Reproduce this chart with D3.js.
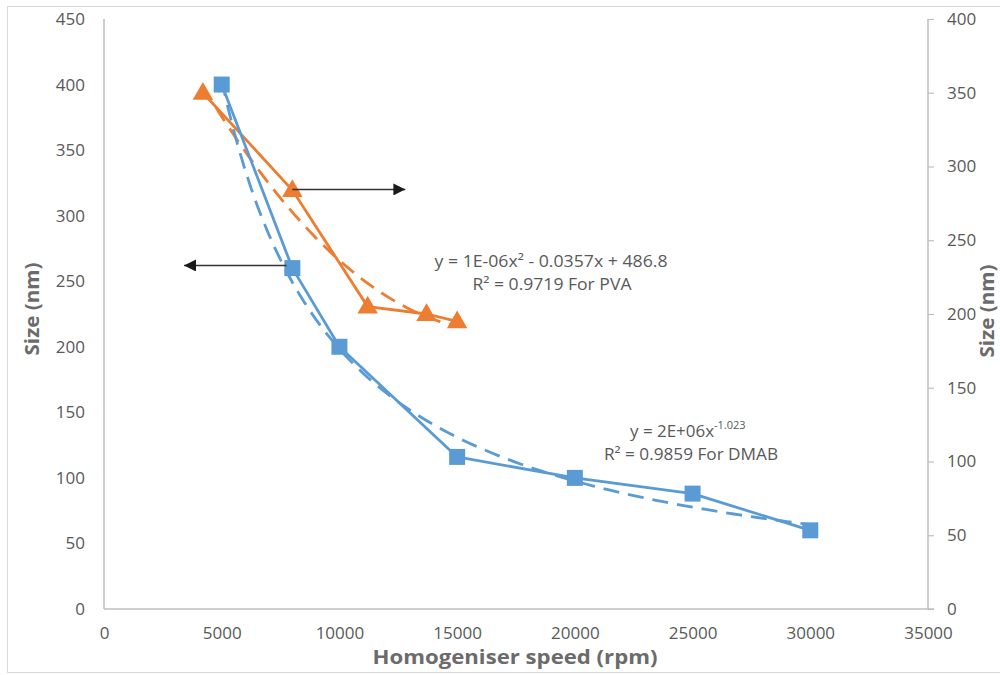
<!DOCTYPE html>
<html><head><meta charset="utf-8">
<script src="https://cdn.jsdelivr.net/npm/d3@7"></script>
<style>
html,body{margin:0;padding:0;background:#fff;}
svg{display:block;font-family:"Open Sans",sans-serif;}
</style></head>
<body>
<svg id="chart" width="1000" height="675"></svg>
<script>
// ---- data ----
const dmabSpeed = [5000, 8000, 10000, 15000, 20000, 25000, 30000];
const dmabSize  = [400, 260, 200, 116, 100, 88, 60];          // left axis
const pvaSpeed  = [4200, 8000, 11200, 13700, 15000];
const pvaSize   = [350, 284, 205, 200, 195];                  // right axis
const xTicks    = [0, 5000, 10000, 15000, 20000, 25000, 30000, 35000];
const yLeftTicks  = [0, 50, 100, 150, 200, 250, 300, 350, 400, 450];
const yRightTicks = [0, 50, 100, 150, 200, 250, 300, 350, 400];
const pvaEquation  = ["y = 1E-06x² - 0.0357x + 486.8", "R² = 0.9719 For PVA"];
const dmabEquation = ["y = 2E+06x", "-1.023", "R² = 0.9859 For DMAB"];

const svg = d3.select("#chart");
const m = {left:104, right:928, top:19, bottom:609};

const x  = d3.scaleLinear().domain([0,35000]).range([m.left, m.right]);
const yL = d3.scaleLinear().domain([0,450]).range([m.bottom, m.top]);
const yR = d3.scaleLinear().domain([0,400]).range([m.bottom, m.top]);

const blue = "#5B9BD5", orange = "#ED7D31", axisCol = "#BFBFBF", txt = "#595959";

// outer border
svg.append("rect").attr("x",7.5).attr("y",6.5).attr("width",1000).attr("height",666)
  .attr("fill","none").attr("stroke","#D9D9D9").attr("stroke-width",1);

// axes
const gx = svg.append("g").attr("transform",`translate(0,${m.bottom})`)
  .call(d3.axisBottom(x).tickValues(xTicks).tickSize(0).tickPadding(18).tickFormat(d3.format("d")));
const gl = svg.append("g").attr("transform",`translate(${m.left},0)`)
  .call(d3.axisLeft(yL).tickValues(yLeftTicks).tickSize(0).tickPadding(19).tickFormat(d3.format("d")));
const gr = svg.append("g").attr("transform",`translate(${m.right},0)`)
  .call(d3.axisRight(yR).tickValues(yRightTicks).tickSize(6).tickPadding(13).tickFormat(d3.format("d")));
[gx,gl,gr].forEach(g=>{
  g.selectAll(".domain").attr("stroke",axisCol).attr("stroke-width",1.5);
  g.selectAll(".tick line").attr("stroke",axisCol).attr("stroke-width",1.2);
  g.selectAll("text").attr("fill",txt).style("font-size","17px").style("font-family","'Open Sans',sans-serif");
});
gl.select(".domain").attr("d",`M0,${m.top}V${m.bottom}`);
gr.select(".domain").attr("d",`M0,${m.top}V${m.bottom}`);
gx.select(".domain").attr("d",`M${m.left},0H${m.right+6}`);

// axis titles
svg.append("text").attr("x",515).attr("y",664).attr("text-anchor","middle")
  .attr("fill","#6b6b6b").style("font-weight","bold").style("font-size","20px")
  .attr("textLength",285).attr("lengthAdjust","spacingAndGlyphs")
  .text("Homogeniser speed (rpm)");
svg.append("text").attr("transform","translate(39,309) rotate(-90)").attr("text-anchor","middle")
  .attr("fill","#6b6b6b").style("font-weight","bold").style("font-size","20px")
  .attr("textLength",93).attr("lengthAdjust","spacingAndGlyphs").text("Size (nm)");
svg.append("text").attr("transform","translate(994,311) rotate(-90)").attr("text-anchor","middle")
  .attr("fill","#6b6b6b").style("font-weight","bold").style("font-size","20px")
  .attr("textLength",93).attr("lengthAdjust","spacingAndGlyphs").text("Size (nm)");

// ---- trendlines from least squares fits ----
// power fit for DMAB (log-log regression)
const lx = dmabSpeed.map(Math.log), ly = dmabSize.map(Math.log);
const mx = d3.mean(lx), my = d3.mean(ly);
const b = d3.sum(lx.map((v,i)=>(v-mx)*(ly[i]-my))) / d3.sum(lx.map(v=>(v-mx)*(v-mx)));
const a = Math.exp(my - b*mx);
const powX = d3.range(0,101).map(i=>dmabSpeed[0] + (dmabSpeed[dmabSpeed.length-1]-dmabSpeed[0])*i/100);
const powPts = powX.map(v=>[v, a*Math.pow(v,b)]);

// quadratic fit for PVA
function quadFit(xs, ys){
  const s = k=>d3.sum(xs.map(v=>Math.pow(v,k)));
  const t = k=>d3.sum(xs.map((v,i)=>Math.pow(v,k)*ys[i]));
  const M = [[s(4),s(3),s(2),t(2)],[s(3),s(2),s(1),t(1)],[s(2),s(1),xs.length,t(0)]];
  for(let i=0;i<3;i++){
    for(let j=i+1;j<3;j++){
      const f=M[j][i]/M[i][i];
      for(let k=i;k<4;k++) M[j][k]-=f*M[i][k];
    }
  }
  const r=[0,0,0];
  for(let i=2;i>=0;i--){
    let sum=M[i][3];
    for(let k=i+1;k<3;k++) sum-=M[i][k]*r[k];
    r[i]=sum/M[i][i];
  }
  return r;
}
const q = quadFit(pvaSpeed, pvaSize);
const qX = d3.range(0,101).map(i=>pvaSpeed[0] + (pvaSpeed[pvaSpeed.length-1]-pvaSpeed[0])*i/100);
const qPts = qX.map(v=>[v, q[0]*v*v + q[1]*v + q[2]]);

const lineL = d3.line().x(d=>x(d[0])).y(d=>yL(d[1]));
const lineR = d3.line().x(d=>x(d[0])).y(d=>yR(d[1]));

const dmab = dmabSpeed.map((v,i)=>[v,dmabSize[i]]);
const pva  = pvaSpeed.map((v,i)=>[v,pvaSize[i]]);

svg.append("path").datum(pva).attr("d",lineR).attr("fill","none")
  .attr("stroke",orange).attr("stroke-width",2.8).attr("stroke-linejoin","round");
svg.append("path").datum(qPts).attr("d",lineR).attr("fill","none")
  .attr("stroke",orange).attr("stroke-width",2.8).attr("stroke-dasharray","16,9");
svg.append("path").datum(dmab).attr("d",lineL).attr("fill","none")
  .attr("stroke",blue).attr("stroke-width",2.8).attr("stroke-linejoin","round");
svg.append("path").datum(powPts).attr("d",lineL).attr("fill","none")
  .attr("stroke",blue).attr("stroke-width",2.8).attr("stroke-dasharray","16,9");

// markers
svg.append("g").selectAll("path").data(pva).join("path")
  .attr("transform",d=>`translate(${x(d[0])},${yR(d[1])+1})`)
  .attr("d",d3.symbol(d3.symbolTriangle2,300)).attr("fill",orange);
svg.append("g").selectAll("rect").data(dmab).join("rect")
  .attr("x",d=>x(d[0])-8).attr("y",d=>yL(d[1])-8).attr("width",16).attr("height",16)
  .attr("fill",blue);

// arrows
const defs = svg.append("defs");
defs.append("marker").attr("id","ah").attr("viewBox","0 0 10 10").attr("refX",10).attr("refY",5)
  .attr("markerWidth",8).attr("markerHeight",8).attr("markerUnits","strokeWidth").attr("orient","auto")
  .append("path").attr("d","M0,0L10,5L0,10Z").attr("fill","#1a1a1a");
const arrows = [
  {from:[8000,320], to:[12800,320]},
  {from:[7750,262], to:[3400,262]}
];
svg.append("g").selectAll("line").data(arrows).join("line")
  .attr("x1",d=>x(d.from[0])).attr("y1",d=>yL(d.from[1]))
  .attr("x2",d=>x(d.to[0])).attr("y2",d=>yL(d.to[1]))
  .attr("stroke","#333").attr("stroke-width",1.5).attr("marker-end","url(#ah)");

// equation labels
const eqStyle = s=>s.attr("fill",txt).style("font-size","16px").attr("text-anchor","middle");
eqStyle(svg.append("text").attr("x",551).attr("y",267)).attr("textLength",233)
  .attr("lengthAdjust","spacingAndGlyphs").text(pvaEquation[0]);
eqStyle(svg.append("text").attr("x",552).attr("y",290)).attr("textLength",159)
  .attr("lengthAdjust","spacingAndGlyphs").text(pvaEquation[1]);
const t1 = svg.append("text").attr("x",630).attr("y",437).attr("fill",txt).style("font-size","16px");
t1.append("tspan").text(dmabEquation[0]).attr("textLength",84).attr("lengthAdjust","spacingAndGlyphs");
t1.append("tspan").attr("dy",-8).style("font-size","11px").text(dmabEquation[1]);
eqStyle(svg.append("text").attr("x",691).attr("y",460)).attr("textLength",174)
  .attr("lengthAdjust","spacingAndGlyphs").text(dmabEquation[2]);
</script>
</body></html>
